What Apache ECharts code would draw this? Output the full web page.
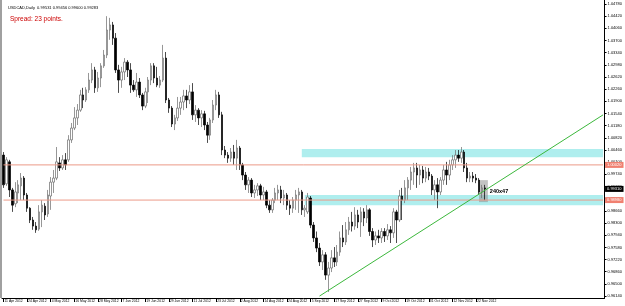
<!DOCTYPE html>
<html><head><meta charset="utf-8">
<script src="https://cdn.jsdelivr.net/npm/echarts@6/dist/echarts.min.js"></script>
<style>html,body{margin:0;padding:0;background:#fff}#c{width:625px;height:306px}</style>
</head><body><div id="c"></div>
<script>
const opens = [
1.0031,0.9946,1.0011,0.9928,0.9887,0.9919,0.9940,0.9963,0.9913,0.9874,
0.9839,0.9821,0.9812,0.9863,0.9880,0.9857,0.9910,0.9951,0.9963,1.0008,
0.9993,1.0017,1.0017,1.0076,1.0111,1.0141,1.0164,1.0209,1.0194,1.0224,
1.0253,1.0283,1.0230,1.0259,1.0295,1.0327,1.0401,1.0416,1.0377,1.0283,
1.0253,1.0277,1.0306,1.0283,1.0238,1.0224,1.0247,1.0209,1.0176,1.0218,
1.0253,1.0295,1.0259,1.0238,1.0253,1.0318,1.0194,1.0170,1.0123,1.0141,
1.0170,1.0188,1.0206,1.0194,1.0218,1.0150,1.0164,1.0141,1.0153,1.0120,
1.0090,1.0135,1.0179,1.0209,1.0150,1.0046,1.0031,1.0022,1.0040,1.0022,
1.0052,1.0002,0.9972,0.9943,0.9957,0.9919,0.9928,0.9940,0.9913,0.9922,
0.9883,0.9869,0.9898,0.9919,0.9928,0.9904,0.9913,0.9883,0.9874,0.9898,
0.9913,0.9922,0.9869,0.9863,0.9904,0.9824,0.9786,0.9756,0.9715,0.9736,
0.9676,0.9697,0.9727,0.9715,0.9744,0.9786,0.9774,0.9810,0.9833,0.9821,
0.9854,0.9833,0.9863,0.9845,0.9869,0.9805,0.9780,0.9792,0.9786,0.9805,
0.9792,0.9810,0.9801,0.9863,0.9839,0.9910,0.9898,0.9934,0.9957,0.9981,
0.9993,0.9972,0.9987,0.9963,0.9981,0.9969,0.9928,0.9943,0.9922,0.9957,
0.9987,0.9972,1.0002,1.0017,1.0031,1.0022,1.0040,0.9993,0.9963,0.9969,
0.9963,0.9957,0.9922,0.9934];
const closes = [
0.9943,1.0017,0.9928,0.9883,0.9922,0.9943,0.9963,0.9913,0.9874,0.9839,
0.9821,0.9810,0.9863,0.9883,0.9854,0.9913,0.9951,0.9963,1.0011,0.9993,
1.0017,1.0002,1.0076,1.0111,1.0141,1.0164,1.0209,1.0194,1.0224,1.0253,
1.0283,1.0230,1.0259,1.0295,1.0327,1.0401,1.0416,1.0377,1.0283,1.0253,
1.0277,1.0306,1.0283,1.0238,1.0224,1.0247,1.0209,1.0176,1.0218,1.0253,
1.0295,1.0259,1.0238,1.0253,1.0318,1.0194,1.0170,1.0123,1.0141,1.0170,
1.0188,1.0206,1.0194,1.0218,1.0150,1.0164,1.0141,1.0153,1.0120,1.0090,
1.0135,1.0179,1.0209,1.0150,1.0046,1.0031,1.0022,1.0040,1.0022,1.0052,
1.0002,0.9972,0.9943,0.9957,0.9919,0.9928,0.9940,0.9913,0.9922,0.9883,
0.9869,0.9898,0.9919,0.9928,0.9904,0.9913,0.9883,0.9874,0.9898,0.9913,
0.9922,0.9869,0.9874,0.9907,0.9824,0.9786,0.9756,0.9715,0.9736,0.9676,
0.9697,0.9727,0.9715,0.9744,0.9786,0.9774,0.9810,0.9833,0.9821,0.9854,
0.9833,0.9863,0.9845,0.9869,0.9805,0.9780,0.9792,0.9786,0.9805,0.9792,
0.9810,0.9801,0.9863,0.9839,0.9910,0.9898,0.9934,0.9957,0.9981,0.9993,
0.9972,0.9987,0.9963,0.9981,0.9969,0.9928,0.9943,0.9922,0.9957,0.9987,
0.9972,1.0002,1.0017,1.0031,1.0022,1.0040,0.9993,0.9963,0.9969,0.9963,
0.9957,0.9922,0.9934,0.9931];
const lows = [
0.9934,0.9940,0.9907,0.9863,0.9877,0.9889,0.9898,0.9898,0.9863,0.9830,
0.9810,0.9801,0.9807,0.9818,0.9839,0.9848,0.9869,0.9919,0.9957,0.9984,
0.9987,0.9987,1.0011,1.0067,1.0105,1.0120,1.0159,1.0170,1.0188,1.0215,
1.0244,1.0215,1.0218,1.0232,1.0289,1.0318,1.0372,1.0357,1.0274,1.0215,
1.0230,1.0253,1.0262,1.0215,1.0218,1.0203,1.0200,1.0164,1.0170,1.0185,
1.0238,1.0244,1.0232,1.0230,1.0247,1.0185,1.0156,1.0114,1.0105,1.0132,
1.0150,1.0164,1.0170,1.0182,1.0135,1.0129,1.0120,1.0114,1.0105,1.0067,
1.0076,1.0126,1.0164,1.0141,1.0031,1.0022,1.0008,1.0011,1.0002,0.9987,
0.9987,0.9957,0.9928,0.9919,0.9907,0.9904,0.9910,0.9898,0.9898,0.9874,
0.9860,0.9860,0.9889,0.9898,0.9889,0.9883,0.9869,0.9854,0.9860,0.9869,
0.9860,0.9854,0.9848,0.9857,0.9815,0.9774,0.9744,0.9703,0.9691,0.9662,
0.9626,0.9685,0.9700,0.9703,0.9733,0.9759,0.9765,0.9795,0.9805,0.9810,
0.9815,0.9789,0.9821,0.9830,0.9792,0.9759,0.9765,0.9771,0.9771,0.9774,
0.9780,0.9771,0.9786,0.9771,0.9833,0.9839,0.9889,0.9898,0.9928,0.9943,
0.9934,0.9943,0.9948,0.9951,0.9957,0.9913,0.9898,0.9874,0.9913,0.9943,
0.9943,0.9957,0.9987,0.9993,1.0011,1.0008,0.9981,0.9951,0.9951,0.9951,
0.9948,0.9913,0.9904,0.9898];
const highs = [
1.0040,1.0025,1.0017,0.9934,0.9951,0.9957,0.9978,0.9969,0.9919,0.9877,
0.9848,0.9833,0.9883,0.9898,0.9889,0.9928,0.9966,0.9987,1.0055,1.0025,
1.0031,1.0037,1.0090,1.0126,1.0173,1.0182,1.0224,1.0230,1.0232,1.0274,
1.0303,1.0292,1.0277,1.0303,1.0342,1.0442,1.0437,1.0425,1.0392,1.0298,
1.0292,1.0318,1.0312,1.0303,1.0253,1.0274,1.0259,1.0215,1.0230,1.0262,
1.0303,1.0303,1.0292,1.0265,1.0357,1.0336,1.0200,1.0176,1.0150,1.0203,
1.0203,1.0224,1.0224,1.0238,1.0244,1.0179,1.0170,1.0164,1.0162,1.0129,
1.0141,1.0194,1.0224,1.0218,1.0159,1.0058,1.0040,1.0052,1.0061,1.0076,
1.0058,1.0008,0.9981,0.9966,0.9963,0.9943,0.9948,0.9946,0.9937,0.9928,
0.9898,0.9904,0.9934,0.9943,0.9940,0.9928,0.9919,0.9898,0.9907,0.9928,
0.9934,0.9928,0.9883,0.9919,0.9910,0.9833,0.9805,0.9771,0.9750,0.9744,
0.9715,0.9750,0.9759,0.9765,0.9805,0.9824,0.9833,0.9848,0.9863,0.9877,
0.9869,0.9877,0.9874,0.9883,0.9874,0.9815,0.9805,0.9810,0.9815,0.9815,
0.9827,0.9821,0.9874,0.9869,0.9928,0.9934,0.9957,0.9966,0.9996,1.0008,
1.0008,1.0002,0.9999,0.9996,0.9993,0.9975,0.9957,0.9963,0.9966,1.0002,
1.0011,1.0017,1.0031,1.0046,1.0046,1.0055,1.0046,1.0008,0.9981,0.9981,
0.9975,0.9963,0.9943,0.9943];
const dateLabels = ['11 Apr 2012','24 Apr 2012','4 May 2012','16 May 2012','28 May 2012','7 Jun 2012','19 Jun 2012','29 Jun 2012','11 Jul 2012','23 Jul 2012','2 Aug 2012','14 Aug 2012','24 Aug 2012','5 Sep 2012','17 Sep 2012','27 Sep 2012','9 Oct 2012','19 Oct 2012','31 Oct 2012','12 Nov 2012','22 Nov 2012'];
const labelStep = 8;
const yTicks = [0.9614,0.9650,0.9686,0.9722,0.9758,0.9794,0.9830,0.9866,0.9902,0.9938,0.9974,1.0010,1.0046,1.0082,1.0118,1.0154,1.0190,1.0226,1.0262,1.0298,1.0334,1.0370,1.0406,1.0442,1.0478];
const levelLines = [1.0002, 0.9898];
const zoneUpper = [101, 1.0049, 1.0025];
const zoneLower = [102, 0.9913, 0.9883];
const trendStart = [107, 0.9614];
const trendEnd = [203, 1.0150];
const selBox = [160.8, 0.9957, 163.8, 0.9892];
const selText = '240x47';
const lastPrice = 0.9931;
const headerText = 'USDCAD,Daily  0.99531 0.99456 0.99600 0.99283';
const spreadText = 'Spread: 23 points.';
const slotCount = 204;

const cats = Array.from({length: slotCount}, (_, i) => String(i));
const candles = opens.map((o, i) => [o, closes[i], lows[i], highs[i]]);
const showIdx = (i) => i % labelStep === 0 && (i / labelStep) < dateLabels.length;
const FONT = 'Liberation Sans';
const LEVEL = '#ec9a88';

// one series per horizontal price line: visible line + price tag on the axis side
const priceLine = (v, lineColor, tagBg, tagFg, z) => ({
  type: 'line', data: [[0, v], [slotCount - 1, v]], symbol: 'none', silent: true, z: z,
  lineStyle: {color: lineColor, width: lineColor ? 1 : 0, opacity: lineColor ? 1 : 0},
  itemStyle: {color: lineColor || '#000'},
  endLabel: {show: true, formatter: () => v.toFixed(5), fontSize: 4, color: tagFg, backgroundColor: tagBg,
    padding: [1, 2], distance: 2, fontFamily: FONT}
});

const chart = echarts.init(document.getElementById('c'), null, {renderer: 'canvas'});
chart.setOption({
  animation: false,
  backgroundColor: '#ffffff',
  title: [
    {text: headerText, left: 3, top: 1, textStyle: {fontSize: 4, fontWeight: 'normal', color: '#000', fontFamily: FONT}},
    {text: spreadText, left: 5, top: 11, textStyle: {fontSize: 6.5, fontWeight: 'normal', color: '#cc0000', fontFamily: FONT}}
  ],
  graphic: [{type: 'rect', left: 0, top: 0, shape: {width: 2, height: 298}, style: {fill: '#a0a0a0'}}],
  grid: {left: 2, right: 16, top: 0, bottom: 8, containLabel: false},
  xAxis: {
    type: 'category', data: cats, boundaryGap: true,
    axisLine: {show: true, lineStyle: {color: '#000', width: 1}},
    axisTick: {show: true, alignWithLabel: true, interval: (i) => showIdx(i), length: 4, lineStyle: {color: '#000'}},
    axisLabel: {interval: (i) => showIdx(i), formatter: (v, i) => dateLabels[Math.round(i / labelStep)] || '',
      align: 'left', padding: [0, 0, 0, 1], fontSize: 3.4, margin: 2, color: '#000', fontFamily: FONT},
    splitLine: {show: false}
  },
  yAxis: {
    type: 'value', position: 'right', min: 0.96083, max: 1.04898, scale: true,
    axisLine: {show: true, lineStyle: {color: '#000', width: 1}},
    axisTick: {show: true, customValues: yTicks, length: 2, lineStyle: {color: '#000'}},
    axisLabel: {customValues: yTicks, formatter: (v) => v.toFixed(5), fontSize: 4, margin: 3, color: '#000', fontFamily: FONT},
    splitLine: {show: false}
  },
  series: [{
    type: 'candlestick',
    data: candles,
    barWidth: 2,
    z: 3,
    itemStyle: {color: '#ffffff', color0: '#000000', borderColor: '#6a6a6a', borderColor0: '#000000', borderWidth: 0.7},
    markArea: {
      silent: true,
      data: [
        [{coord: [zoneUpper[0], zoneUpper[1]], itemStyle: {color: '#afeeee', opacity: 1}}, {coord: [slotCount - 1, zoneUpper[2]]}],
        [{coord: [zoneLower[0], zoneLower[1]], itemStyle: {color: '#afeeee', opacity: 1}}, {coord: [slotCount - 1, zoneLower[2]]}],
        [{coord: [selBox[0], selBox[1]], itemStyle: {color: '#909090', opacity: 0.55},
          label: {show: true, position: 'right', formatter: selText, fontSize: 5.5, fontWeight: 'bold', color: '#000', distance: 2, fontFamily: FONT}},
         {coord: [selBox[2], selBox[3]]}]
      ],
      label: {show: false}
    },
    markLine: {
      silent: true, symbol: ['none', 'none'],
      data: [
        [{coord: trendStart, lineStyle: {color: '#3cb83c', width: 1, type: 'solid', opacity: 1}, label: {show: false}}, {coord: trendEnd}]
      ]
    }
  },
  priceLine(levelLines[0], LEVEL, '#f08070', '#fff', 4),
  priceLine(levelLines[1], LEVEL, '#f08070', '#fff', 4),
  priceLine(lastPrice, null, '#000', '#fff', 5)
  ]
});
</script></body></html>
